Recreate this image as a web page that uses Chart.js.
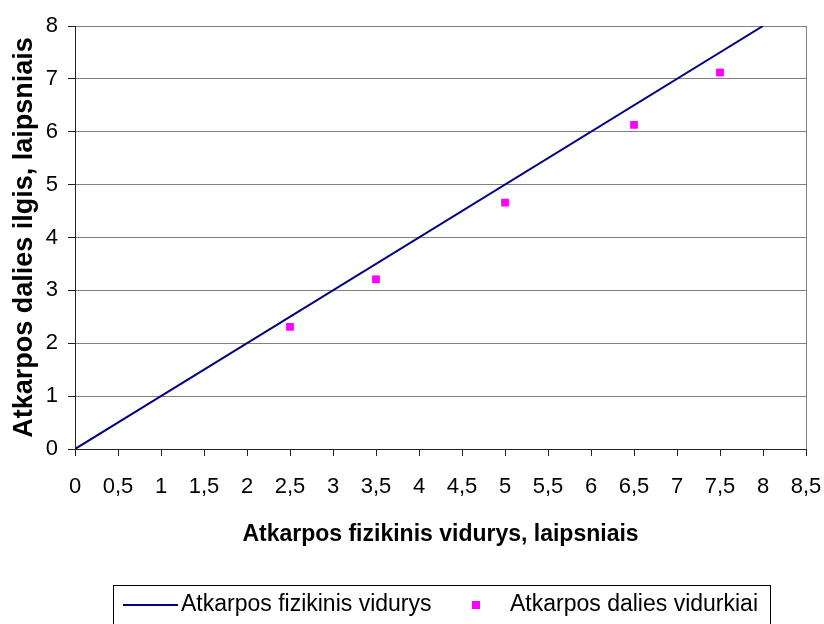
<!DOCTYPE html>
<html lang="lt">
<head>
    <meta charset="UTF-8">
    <title>Atkarpos vidurys</title>
    <style>
        body {
            margin: 0;
            padding: 0;
            background: #fff;
        }

        canvas {
            display: block;
        }
    </style>
</head>
<body>
<canvas id="chart" width="824" height="624"></canvas>

<script src="https://cdn.jsdelivr.net/npm/chart.js"></script>
<script>
    // teorinė linija: fizikinis vidurys
    var lineX = [0, 8];
    var lineY = [0, 8];

    // išmatuoti dalių vidurkiai
    var pointX = [2.5, 3.5, 5, 6.5, 7.5];
    var pointY = [2.31, 3.21, 4.66, 6.13, 7.12];

    var xTitle = 'Atkarpos fizikinis vidurys, laipsniais';
    var yTitle = 'Atkarpos dalies ilgis, laipsniais';
    var seriesNames = ['Atkarpos fizikinis vidurys', 'Atkarpos dalies vidurkiai'];

    var FONT = 'Liberation Sans, Arial, sans-serif';

    function toPoints(xs, ys) {
        return xs.map(function (x, i) {
            return {x: x, y: ys[i]};
        });
    }

    // legend drawn by hand, framed box like the original
    var boxLegend = {
        id: 'boxLegend',
        afterDraw: function (chart) {
            var ctx = chart.ctx;
            var ds = chart.data.datasets;
            ctx.save();
            ctx.strokeStyle = '#000';
            ctx.lineWidth = 1;
            ctx.strokeRect(113.5, 585.5, 657, 60);

            ctx.strokeStyle = ds[0].borderColor;
            ctx.lineWidth = 2;
            ctx.beginPath();
            ctx.moveTo(123, 605);
            ctx.lineTo(178, 605);
            ctx.stroke();

            ctx.fillStyle = '#000';
            ctx.font = '23px ' + FONT;
            ctx.textBaseline = 'alphabetic';
            ctx.fillText(ds[0].label, 181, 611);

            ctx.fillStyle = ds[1].backgroundColor;
            ctx.fillRect(472, 601, 8, 8);

            ctx.fillStyle = '#000';
            ctx.fillText(ds[1].label, 510, 611);
            ctx.restore();
        }
    };

    // right edge of plot frame
    var rightFrame = {
        id: 'rightFrame',
        beforeDatasetsDraw: function (chart) {
            var a = chart.chartArea;
            var ctx = chart.ctx;
            ctx.save();
            ctx.strokeStyle = '#808080';
            ctx.lineWidth = 1;
            ctx.beginPath();
            ctx.moveTo(Math.round(a.right) + 0.5, a.top);
            ctx.lineTo(Math.round(a.right) + 0.5, a.bottom);
            ctx.stroke();
            ctx.restore();
        }
    };

    var ctx = document.getElementById('chart').getContext('2d');
    var chart = new Chart(ctx, {
        type: 'scatter',
        data: {
            datasets: [{
                label: seriesNames[0],
                data: toPoints(lineX, lineY),
                showLine: true,
                borderColor: '#000080',
                backgroundColor: '#000080',
                borderWidth: 2,
                pointRadius: 0,
                order: 2
            }, {
                label: seriesNames[1],
                data: toPoints(pointX, pointY),
                showLine: false,
                pointStyle: 'rect',
                pointRadius: 5.5,
                borderWidth: 0,
                backgroundColor: '#FF00FF',
                borderColor: '#FF00FF',
                order: 1
            }]
        },
        options: {
            responsive: false,
            animation: false,
            layout: {
                padding: {top: 26, right: 18, bottom: 70, left: 0}
            },
            plugins: {
                legend: {display: false},
                tooltip: {enabled: false}
            },
            scales: {
                x: {
                    type: 'linear',
                    min: 0,
                    max: 8.5,
                    afterFit: function (scale) {
                        scale.height = 105;
                        // let the last label hang into the margin
                        scale.paddingRight = 0;
                        scale.paddingLeft = 0;
                    },
                    ticks: {
                        stepSize: 0.5,
                        color: '#000',
                        padding: 18,
                        maxRotation: 0,
                        autoSkip: false,
                        font: {family: FONT, size: 22},
                        callback: function (v) {
                            return String(v).replace('.', ',');
                        }
                    },
                    grid: {
                        drawOnChartArea: false,
                        drawTicks: true,
                        tickLength: 7,
                        tickColor: '#222'
                    },
                    border: {display: true, color: '#222', width: 1},
                    title: {
                        display: true,
                        text: xTitle,
                        color: '#000',
                        padding: {top: 0, bottom: 6},
                        font: {family: FONT, size: 23, weight: 'bold'}
                    }
                },
                y: {
                    type: 'linear',
                    min: 0,
                    max: 8,
                    afterFit: function (scale) {
                        scale.width = 75;
                    },
                    ticks: {
                        stepSize: 1,
                        color: '#000',
                        padding: 10,
                        font: {family: FONT, size: 22}
                    },
                    grid: {
                        color: '#808080',
                        lineWidth: 1,
                        tickLength: 7,
                        tickColor: '#222'
                    },
                    border: {display: true, color: '#222', width: 1},
                    title: {
                        display: true,
                        text: yTitle,
                        color: '#000',
                        padding: {top: 8, bottom: 0},
                        font: {family: FONT, size: 27, weight: 'bold'}
                    }
                }
            }
        },
        plugins: [rightFrame, boxLegend]
    });
</script>
</body>
</html>
